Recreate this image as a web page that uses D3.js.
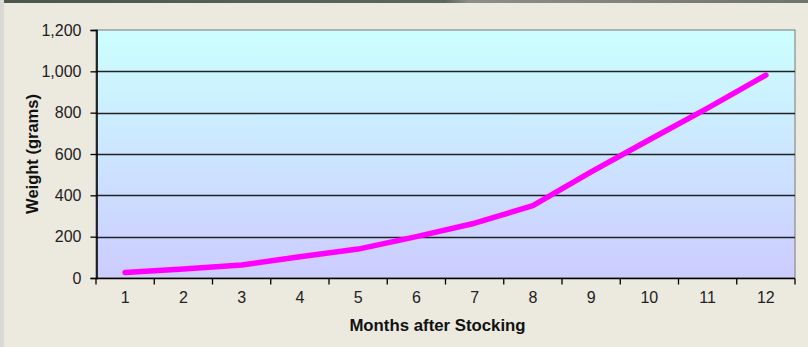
<!DOCTYPE html>
<html>
<head>
<meta charset="utf-8">
<script src="https://cdn.jsdelivr.net/npm/d3@7"></script>
<style>
  html, body { margin: 0; padding: 0; background: #ECE9DF; }
  svg { display: block; }
  text { font-family: "Liberation Sans", Arial, sans-serif; }
</style>
</head>
<body>
<svg id="chart" width="808" height="347"></svg>
<script>
// Fish growth after stocking
const months = [1, 2, 3, 4, 5, 6, 7, 8, 9, 10, 11, 12];
const weights = [27, 43, 63, 103, 140, 200, 265, 350, 513, 669, 822, 982];
const yTicks = [0, 200, 400, 600, 800, 1000, 1200];

const W = 808, H = 347;
const margin = { left: 96, right: 13, top: 30, bottom: 69 };
const svg = d3.select("#chart");

// window frame strips
const frame = svg.append("defs");
const topGrad = frame.append("linearGradient").attr("id", "topStrip");
topGrad.append("stop").attr("offset", "0%").attr("stop-color", "#4d564c");
topGrad.append("stop").attr("offset", "55%").attr("stop-color", "#5c665a");
topGrad.append("stop").attr("offset", "58%").attr("stop-color", "#8c8f88");
topGrad.append("stop").attr("offset", "100%").attr("stop-color", "#6f746c");
svg.append("rect").attr("x", 0).attr("y", 0).attr("width", W).attr("height", 3)
  .attr("fill", "url(#topStrip)");
svg.append("rect").attr("x", 0).attr("y", 0).attr("width", 4).attr("height", H)
  .attr("fill", "#d9d9d6");

const plotGrad = frame.append("linearGradient").attr("id", "plotBg")
  .attr("x1", 0).attr("y1", 0).attr("x2", 0).attr("y2", 1);
plotGrad.append("stop").attr("offset", "0%").attr("stop-color", "#CCFFFF");
plotGrad.append("stop").attr("offset", "100%").attr("stop-color", "#CCCCFF");

const x0 = margin.left, x1 = W - margin.right;
const y0 = H - margin.bottom, y1 = margin.top;

const x = d3.scaleBand().domain(months).range([x0, x1]);
const y = d3.scaleLinear().domain([0, 1200]).range([y0, y1]);

// plot area
svg.append("rect").attr("x", x0).attr("y", y1).attr("width", x1 - x0).attr("height", y0 - y1)
  .attr("fill", "url(#plotBg)").attr("stroke", "#8a8a8a").attr("stroke-width", 1.2);

// gridlines
svg.append("g").selectAll("line").data(yTicks.filter(d => d > 0 && d < 1200)).join("line")
  .attr("x1", x0).attr("x2", x1)
  .attr("y1", d => Math.round(y(d)) + 0.5).attr("y2", d => Math.round(y(d)) + 0.5)
  .attr("stroke", "#222").attr("stroke-width", 1.5);

// y axis
const yAxis = svg.append("g").attr("transform", `translate(${x0 + 0.5},0)`)
  .call(d3.axisLeft(y).tickValues(yTicks).tickSize(6).tickPadding(9)
    .tickFormat(d3.format(",")));
yAxis.select(".domain").attr("stroke", "#000").attr("stroke-width", 1.6);
yAxis.selectAll(".tick line").attr("stroke", "#000").attr("stroke-width", 1.3);
yAxis.selectAll("text").attr("font-size", 16).attr("fill", "#222");

// x axis: ticks on category boundaries, labels centered
const xAxisG = svg.append("g").attr("transform", `translate(0,${y0 + 0.5})`);
xAxisG.append("line").attr("x1", x0).attr("x2", x1).attr("stroke", "#000").attr("stroke-width", 1.6);
const bounds = months.map(m => x(m)).concat([x1]);
xAxisG.selectAll("line.tk").data(bounds).join("line").attr("class", "tk")
  .attr("x1", d => d).attr("x2", d => d).attr("y1", 0).attr("y2", 6)
  .attr("stroke", "#000").attr("stroke-width", 1.3);
xAxisG.selectAll("text").data(months).join("text")
  .attr("x", d => x(d) + x.bandwidth() / 2).attr("y", 24)
  .attr("text-anchor", "middle").attr("font-size", 16).attr("fill", "#222")
  .text(d => d);

// axis titles
svg.append("text").attr("x", (x0 + x1) / 2 - 8).attr("y", 331)
  .attr("text-anchor", "middle").attr("font-size", 16.8).attr("font-weight", "bold")
  .attr("fill", "#111").text("Months after Stocking");
svg.append("text").attr("transform", `translate(38,${(y0 + y1) / 2}) rotate(-90)`)
  .attr("text-anchor", "middle").attr("font-size", 16.5).attr("font-weight", "bold")
  .attr("fill", "#111").text("Weight (grams)");

// growth line
const line = d3.line()
  .x((d, i) => x(months[i]) + x.bandwidth() / 2)
  .y(d => y(d));
svg.append("path").datum(weights).attr("d", line)
  .attr("fill", "none").attr("stroke", "#FF00FF").attr("stroke-width", 5.5)
  .attr("stroke-linecap", "round").attr("stroke-linejoin", "round");
</script>
</body>
</html>
